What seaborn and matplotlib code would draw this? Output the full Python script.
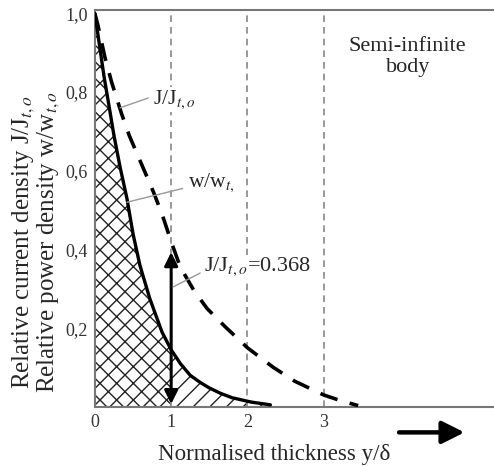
import matplotlib
matplotlib.use("Agg")
import matplotlib.pyplot as plt
import seaborn as sns
import pandas as pd

# values
x_w = [0.0, 0.06, 0.12, 0.19, 0.25, 0.33, 0.42, 0.5, 0.59, 0.72, 0.88, 1.0,
       1.12, 1.25, 1.38, 1.5, 1.65, 1.8, 2.05, 2.3]
w_rel = [1.0, 0.92, 0.84, 0.76, 0.69, 0.61, 0.53, 0.44, 0.36, 0.275, 0.19, 0.145,
         0.11, 0.08, 0.062, 0.048, 0.034, 0.023, 0.012, 0.005]

x_j = [0.0, 0.04, 0.13, 0.22, 0.35, 0.45, 0.56, 0.66, 0.77, 0.88, 1.0, 1.12,
       1.3, 1.47, 1.7, 2.0, 2.34, 2.62, 3.0, 3.2, 3.45]
j_rel = [1.0, 0.97, 0.89, 0.825, 0.745, 0.69, 0.64, 0.595, 0.545, 0.49, 0.42, 0.355,
         0.295, 0.25, 0.205, 0.15, 0.10, 0.065, 0.03, 0.017, 0.003]

ref_lines = [1, 2, 3]
x_ticks = [0, 1, 2, 3]
y_ticks = [0.2, 0.4, 0.6, 0.8, 1.0]
y_ticklabels = ["0,2", "0,4", "0,6", "0,8", "1,0"]
arrow_x = 1.0
arrow_top = 0.40

sns.set_style("white")
plt.rcParams["font.family"] = ["Liberation Serif", "DejaVu Serif"]
plt.rcParams["mathtext.fontset"] = "stix"

df_w = pd.DataFrame({"x": x_w, "y": w_rel})
df_j = pd.DataFrame({"x": x_j, "y": j_rel})

fig = plt.figure(figsize=(4.94, 4.66), dpi=100)
ax = fig.add_axes([0.192, 0.127, 0.808, 0.851])

# hatched areas under the power density curve
in1 = df_w[df_w.x <= 1.0]
in2 = df_w[df_w.x >= 1.0]
ax.fill_between(in1.x, 0, in1.y, facecolor="white", edgecolor="#222222", hatch="xx", linewidth=0)
ax.fill_between(in2.x, 0, in2.y, facecolor="white", edgecolor="#222222", hatch="//", linewidth=0)

for xv in ref_lines:
    ax.axvline(xv, color="#888888", linestyle=(0, (4, 3)), linewidth=1.2, zorder=1)

sns.lineplot(data=df_w, x="x", y="y", ax=ax, color="black", linewidth=2.4, zorder=3)
sns.lineplot(data=df_j, x="x", y="y", ax=ax, color="black", linewidth=2.6,
             linestyle=(0, (5, 3.5)), zorder=3)

ax.annotate("", xy=(arrow_x, arrow_top), xytext=(arrow_x, 0.0),
            arrowprops=dict(arrowstyle="<|-|>", color="black", lw=2.2, mutation_scale=20), zorder=4)

bbox = dict(facecolor="white", edgecolor="none", pad=1)
ax.text(0.76, 0.78, r"J/J$_{t,o}$", fontsize=15.5, ha="left", va="center", bbox=bbox, zorder=5)
ax.plot([0.33, 0.7], [0.76, 0.785], color="#999999", lw=1, zorder=5)
ax.text(1.22, 0.57, r"w/w$_{t,}$", fontsize=15.5, ha="left", va="center", bbox=bbox, zorder=5)
ax.plot([0.42, 1.15], [0.52, 0.555], color="#999999", lw=1, zorder=5)
ax.text(1.43, 0.355, r"J/J$_{t,o}$=0.368", fontsize=16, ha="left", va="center", bbox=bbox, zorder=5)
ax.plot([1.03, 1.38], [0.305, 0.34], color="#999999", lw=1, zorder=5)

ax.text(4.1, 0.89, "Semi-infinite\nbody", fontsize=16, ha="center", va="center",
        linespacing=1.15, bbox=bbox, zorder=5)

ax.set_xlim(0, 5.23)
ax.set_ylim(0, 1.008)
ax.set_xticks(x_ticks)
ax.set_xticklabels([str(t) for t in x_ticks])
ax.set_yticks(y_ticks)
ax.set_yticklabels(y_ticklabels)
ax.tick_params(axis="both", labelsize=13, colors="#555555", length=3, direction="in", pad=5)
for lab in ax.get_xticklabels() + ax.get_yticklabels():
    lab.set_color("#333333")

ax.set_xlabel("Normalised thickness y/δ", fontsize=16.5)
ax.xaxis.set_label_coords(0.45, -0.095)
ax.set_ylabel("Relative current density J/J$_{t,o}$\nRelative power density w/w$_{t,o}$",
              fontsize=18, linespacing=0.9)
ax.yaxis.set_label_coords(-0.083, 0.415)

for side in ["left", "top", "bottom"]:
    ax.spines[side].set_color("#777777")
    ax.spines[side].set_linewidth(1.5)
ax.spines["right"].set_visible(False)

# arrow under the x axis
ax.annotate("", xy=(4.88, -0.065), xytext=(3.95, -0.065), xycoords="data",
            arrowprops=dict(arrowstyle="-|>", color="black", lw=3.2, mutation_scale=34),
            annotation_clip=False)

fig.savefig("out.png", dpi=100)
